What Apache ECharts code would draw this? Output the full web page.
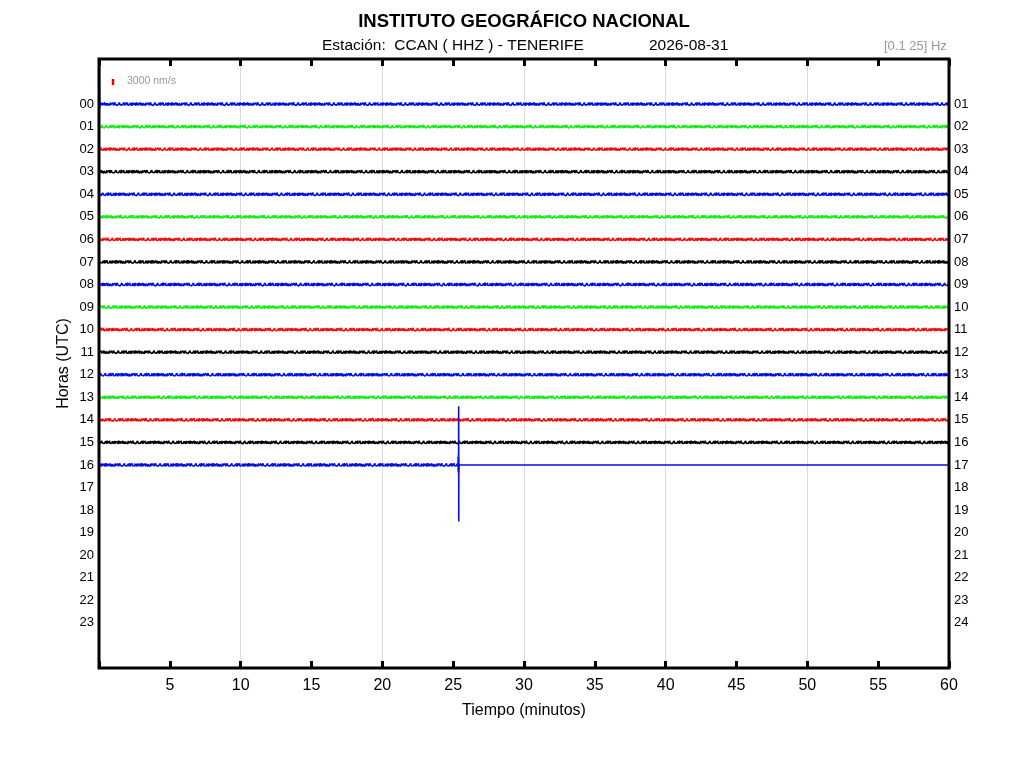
<!DOCTYPE html>
<html><head><meta charset="utf-8">
<script src="https://cdn.jsdelivr.net/npm/echarts@6/dist/echarts.min.js"></script>
<style>html,body{margin:0;padding:0;background:#fff}#c{width:1024px;height:768px}</style>
</head><body><div id="c"></div>
<script>
// ---- data ----
var hoursLeft = ['00','01','02','03','04','05','06','07','08','09','10','11','12','13','14','15','16','17','18','19','20','21','22','23'];
var hoursRight = ['01','02','03','04','05','06','07','08','09','10','11','12','13','14','15','16','17','18','19','20','21','22','23','24'];
var xTicks = [5,10,15,20,25,30,35,40,45,50,55,60];
var traceColors = ['#0010e0','#16ec16','#ee1010','#000000'];
var recordedHours = 17;          // rows 00..16 have data
var lastRowEndMin = 25.39;       // hour 16 stops here
var endSpike = {min: 25.39, top: 13.4, bottom: 18.5};  // hours
var startSpike = {min: 0.03, top: -2.3};
var scaleBar = {min: 0.99, top: -1.11, bottom: -0.85, label: '3000 nm/s'};
var traceAmp = 0.075; // hours per unit noise
// typed noise texture (unitless), read as typical trace jitter
var noise = [0.3,-0.6,0.9,-0.2,0.5,-1.0,0.1,0.7,-0.4,-0.8,0.6,0.2,-0.5,1.1,-0.3,0.4,-0.9,0.8,-0.1,-0.6,0.5,0.0,-0.7,0.9,-0.4,0.3,-1.2,0.6,0.2,-0.5,0.8,-0.3,-0.9,0.4,0.1,-0.6,1.0,-0.2,0.5,-0.8,0.3,0.7,-0.4,-0.1,0.6,-1.0,0.2,0.9,-0.5,0.4,-0.7,0.1,0.8,-0.3,-0.6,0.5,-0.2,1.3,-0.9,0.3,0.0,-0.4,0.7,-0.8,0.2,0.6,-0.5,-0.1,0.9,-0.7,0.4,-0.3,0.8,-1.1,0.5,0.1,-0.6,0.3,0.7,-0.2,-0.9,0.6,-0.4,0.2,1.0,-0.5,-0.3,0.4,-0.8,0.7,0.1,-0.6,0.5,-0.2,0.9,-1.0,0.3,0.6,-0.4,-0.7,0.2];
var sampleStep = 0.025; // minutes

// ---- build ----
var series = [];
for (var h = 0; h < recordedHours; h++) {
  var pts = [];
  var end = (h === recordedHours - 1) ? lastRowEndMin : 60;
  var n = Math.round(end / sampleStep);
  if (h === 0) { pts.push([0.01, startSpike.top]); pts.push([0.02, h+0.3]); pts.push([0.03, startSpike.top]); pts.push([0.05, h+0.2]); }
  for (var i = 0; i <= n; i++) {
    var v = noise[(i + h * 37) % noise.length];
    pts.push([+(i * sampleStep).toFixed(4), h + v * traceAmp]);
  }
  if (h === recordedHours - 1) {
    pts.push([endSpike.min - 0.04, h - 0.35]);
    pts.push([endSpike.min - 0.03, h + 0.3]);
    pts.push([endSpike.min - 0.02, h - 0.45]);
    pts.push([endSpike.min - 0.01, h + 0.35]);
    pts.push([endSpike.min, endSpike.top]);
    pts.push([endSpike.min + 0.005, endSpike.bottom]);
    pts.push([endSpike.min + 0.01, h - 0.3]);
    pts.push([endSpike.min + 0.02, h + 0.3]);
    pts.push([endSpike.min + 0.03, h]);
    pts.push([60, h]);
  }
  series.push({
    type: 'line', data: pts, showSymbol: false, symbol: 'none', animation: false,
    lineStyle: {color: traceColors[h % 4], width: 1.6}, clip: true, silent: true
  });
}
series.push({
  type: 'line', data: [[scaleBar.min, scaleBar.top],[scaleBar.min, scaleBar.bottom]],
  symbol: 'none', animation: false, lineStyle: {color: '#ee0000', width: 2.5}
});

var font = 'Liberation Sans, Arial, sans-serif';
var chart = echarts.init(document.getElementById('c'), null, {renderer: 'canvas'});
chart.setOption({
  backgroundColor: '#fff',
  animation: false,
  grid: {left: 99, right: 75, top: 59, bottom: 100, show: true, borderColor: '#000', borderWidth: 3, backgroundColor: 'transparent', z: 5},
  title: [
    {text: 'INSTITUTO GEOGRÁFICO NACIONAL', left: 519, top: 7, padding: 5, textAlign: 'center',
     textStyle: {fontFamily: font, fontSize: 18.5, fontWeight: 'bold', color: '#000'}},
    {text: 'Estación:  CCAN ( HHZ ) - TENERIFE', left: 317, top: 33,
     textStyle: {fontFamily: font, fontSize: 15.5, fontWeight: 'normal', color: '#000'}},
    {text: '2026-08-31', left: 644, top: 33,
     textStyle: {fontFamily: font, fontSize: 15.5, fontWeight: 'normal', color: '#000'}},
    {text: '[0.1 25] Hz', left: 879, top: 35,
     textStyle: {fontFamily: font, fontSize: 13, fontWeight: 'normal', color: '#999'}}
  ],
  graphic: [{type: 'text', left: 127, top: 76, z: 10,
    style: {text: scaleBar.label, fill: '#999', font: '10.5px ' + font}}],
  xAxis: [
    {type: 'value', min: 0, max: 60, interval: 5, position: 'bottom',
     name: 'Tiempo (minutos)', nameLocation: 'middle', nameGap: 35,
     nameTextStyle: {fontFamily: font, fontSize: 16, color: '#000'},
     axisLine: {show: false, onZero: false},
     axisTick: {show: true, inside: true, length: 7, lineStyle: {color: '#000', width: 3}},
     axisLabel: {fontFamily: font, fontSize: 16, color: '#000', margin: 10,
       formatter: function (v) { return xTicks.indexOf(v) >= 0 ? String(v) : ''; }},
     splitLine: {show: false}},
    {type: 'value', min: 0, max: 60, interval: 5, position: 'top',
     axisLine: {show: false, onZero: false}, axisLabel: {show: false},
     axisTick: {show: true, inside: true, length: 7, lineStyle: {color: '#000', width: 3}},
     splitLine: {show: false}},
    {type: 'value', min: 0, max: 60, interval: 10, position: 'bottom',
     axisLine: {show: false, onZero: false}, axisLabel: {show: false}, axisTick: {show: false},
     splitLine: {show: true, lineStyle: {color: '#dcdcdc', width: 1}}}
  ],
  yAxis: [
    {type: 'value', min: -2, max: 25, interval: 1, inverse: true, position: 'left',
     name: 'Horas (UTC)', nameLocation: 'middle', nameGap: 27, nameRotate: 90, nameMoveOverlap: false,
     nameTextStyle: {fontFamily: font, fontSize: 16, color: '#000'},
     axisLine: {show: false, onZero: false}, axisTick: {show: false}, splitLine: {show: false},
     axisLabel: {fontFamily: font, fontSize: 13, color: '#000', margin: 5,
       formatter: function (v) { return (v >= 0 && v < hoursLeft.length) ? hoursLeft[v] : ''; }}},
    {type: 'value', min: -2, max: 25, interval: 1, inverse: true, position: 'right',
     axisLine: {show: false, onZero: false}, axisTick: {show: false}, splitLine: {show: false},
     axisLabel: {fontFamily: font, fontSize: 13, color: '#000', margin: 5,
       formatter: function (v) { return (v >= 0 && v < hoursRight.length) ? hoursRight[v] : ''; }}}
  ],
  series: series
});
</script></body></html>
